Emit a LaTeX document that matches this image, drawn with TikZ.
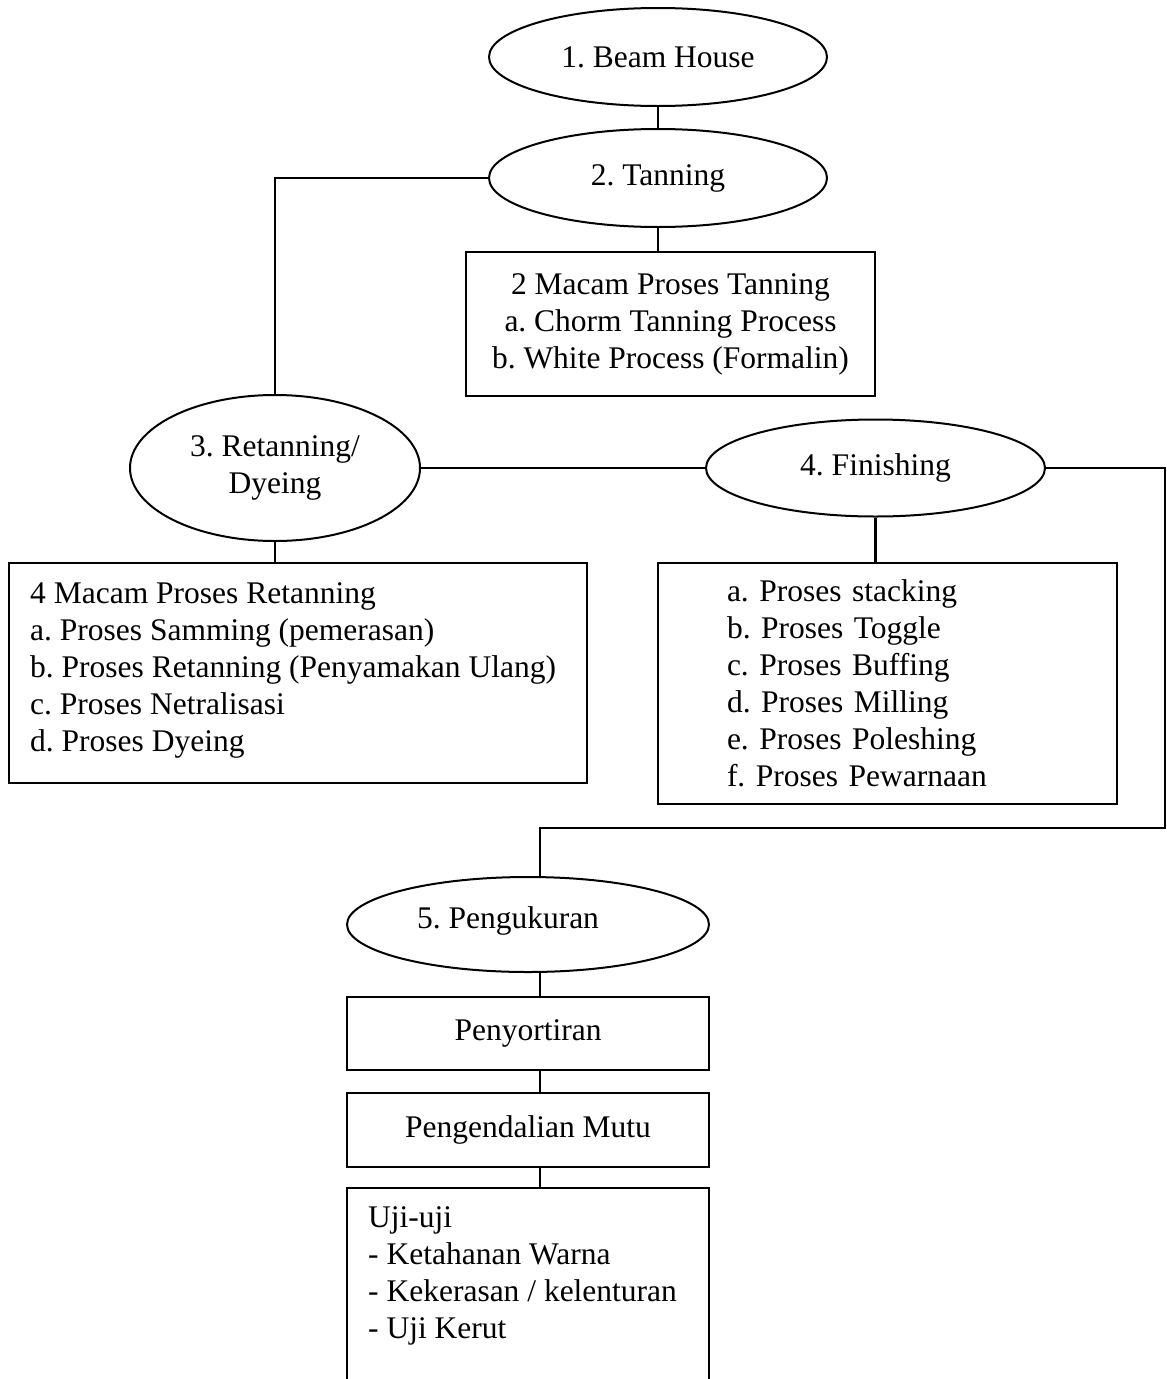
\documentclass[tikz,border=0pt]{standalone}
\usepackage{fontspec}
\setmainfont{Liberation Serif}
\usetikzlibrary{shapes.geometric}
\begin{document}
\frenchspacing
\begin{tikzpicture}[x=1pt,y=-1pt,
  every node/.style={font=\fontsize{31.5}{37}\selectfont\frenchspacing},
  oval/.style={draw, ellipse, line width=2pt, inner sep=0pt},
  box/.style={draw, rectangle, line width=2.5pt},
  conn/.style={line width=2.3pt}]
\useasboundingbox (0,0) rectangle (1167,1379);

% ellipses
\node[oval, minimum width=338pt, minimum height=98pt] (e1) at (658,57) {1. Beam House};
\node[oval, minimum width=338pt, minimum height=98pt] (e2) at (658,178) {2. Tanning};
\node[oval, minimum width=290pt, minimum height=146pt, align=center] (e3) at (275,468) {3. Retanning/\\Dyeing};
\node[oval, minimum width=339pt, minimum height=97pt] (e4) at (875.5,468) {4. Finishing};
\node[oval, minimum width=362pt, minimum height=95pt] (e5) at (528,924.5) {};
\node (e5t) at ([xshift=-20pt,yshift=4pt]e5.center) {5. Pengukuran};

% boxes
\node[box, minimum width=409pt, minimum height=144pt, align=center, inner sep=0pt] (tan) at (670.5,324)
  {2 Macam Proses Tanning\\a. Chorm Tanning Process\\b. White Process (Formalin)};
\node[box, minimum width=578pt, minimum height=220pt] (box3) at (298,673) {};
\node[anchor=west, align=left, inner sep=0pt] (box3t) at (30,670)
  {4 Macam Proses Retanning\\a. Proses Samming (pemerasan)\\b. Proses Retanning (Penyamakan Ulang)\\c. Proses Netralisasi\\d. Proses Dyeing};
\node[box, minimum height=241pt, text width=321pt, inner xsep=69pt, inner ysep=0pt, align=left] (box4) at (887.5,683.5)
  {a. Proses stacking\\b. Proses Toggle\\c. Proses Buffing\\d. Proses Milling\\e. Proses Poleshing\\f. Proses Pewarnaan};
\node[box, minimum width=362pt, minimum height=73pt] (sort) at (528,1033.5) {Penyortiran};
\node[box, minimum width=362pt, minimum height=74pt] (mutu) at (528,1130) {Pengendalian Mutu};
\node[rectangle, minimum width=362pt, minimum height=191pt, anchor=north, inner sep=0pt] (uji) at (528,1188) {};
\draw[line width=2.5pt] (uji.south west) -- (uji.north west) -- (uji.north east) -- (uji.south east);
\node[anchor=north west, align=left, inner sep=0pt] (ujit) at (368,1206)
  {Uji-uji\\- Ketahanan Warna\\- Kekerasan / kelenturan\\- Uji Kerut};

% connectors
\coordinate (rc) at (1165,828);
\coordinate (sp) at (540,828);
\draw[conn] (e1) -- (e2);
\draw[conn] (e2.west) -| (e3.north);
\draw[conn] (e2.south) -- (e2.south |- tan.north);
\draw[conn] (e3.east) -- (e4.west);
\draw[conn] (e3.south) -- (e3.south |- box3.north);
\draw[conn] (e4.south) -- (e4.south |- box4.north);
\draw[conn] (e4.east) -| (rc) -- (sp) -- (sp |- e5.north);
\draw[conn] (sp |- e5.south) -- (sp |- sort.north);
\draw[conn] (sp |- sort.south) -- (sp |- mutu.north);
\draw[conn] (sp |- mutu.south) -- (sp |- uji.north);
\end{tikzpicture}
\end{document}
